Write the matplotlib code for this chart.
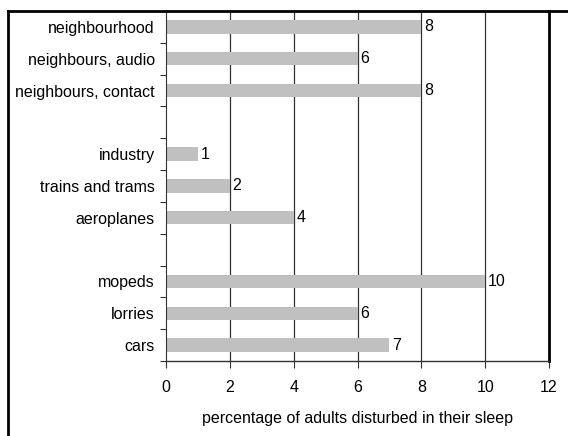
import matplotlib
matplotlib.use("Agg")
import matplotlib.pyplot as plt
from matplotlib.lines import Line2D

plt.rcParams['font.family'] = ['Liberation Sans', 'DejaVu Sans']

# top to bottom, None marks an empty slot between groups
categories = ["neighbourhood", "neighbours, audio", "neighbours, contact", None,
              "industry", "trains and trams", "aeroplanes", None,
              "mopeds", "lorries", "cars"]
values = [8, 6, 8, None, 1, 2, 4, None, 10, 6, 7]

FS = 11.5
W, H = 568, 436
fig = plt.figure(figsize=(W / 100, H / 100), dpi=100)
ax = fig.add_axes([166 / W, 1 - 361 / H, (549 - 166) / W, (361 - 11) / H])

n = len(categories)
ys = [n - 1 - i for i in range(n)]
for y, cat, v in zip(ys, categories, values):
    if v is None:
        continue
    ax.barh(y, v, height=0.42, color="#c0c0c0", zorder=2)
    ax.text(v + 0.08, y, str(v), va="center", ha="left", fontsize=FS)

ax.set_xlim(0, 12)
ax.set_ylim(-0.5, n - 0.5)
ax.set_xticks(range(0, 13, 2))
ax.set_xticklabels([str(t) for t in range(0, 13, 2)], fontsize=FS)

# category labels at centres, tick marks at slot boundaries
ax.set_yticks(ys)
ax.set_yticklabels([c if c else "" for c in categories], fontsize=FS)
ax.tick_params(axis="y", which="major", length=0, pad=8)
ax.set_yticks([y - 0.5 for y in range(n + 1)], minor=True)
ax.tick_params(axis="y", which="minor", length=4, width=0.8, color="#333333", direction="out")
ax.tick_params(axis="x", length=5, width=0.8, color="#333333", pad=9)

for x in range(2, 12, 2):
    ax.axvline(x, color="#333333", linewidth=0.9, zorder=1)

ax.spines["left"].set_color("#333333")
ax.spines["left"].set_linewidth(0.8)
ax.spines["bottom"].set_color("#333333")
ax.spines["bottom"].set_linewidth(1.0)
ax.spines["right"].set_linewidth(2)
ax.spines["top"].set_visible(False)

ax.set_xlabel("percentage of adults disturbed in their sleep", fontsize=FS, labelpad=11)

# figure frame on left and top
fig.add_artist(Line2D([8 / W, 8 / W], [0, 1 - 11 / H], color="black", linewidth=2,
                      transform=fig.transFigure))
fig.add_artist(Line2D([8 / W, 1], [1 - 11 / H, 1 - 11 / H], color="black", linewidth=2,
                      transform=fig.transFigure))

fig.savefig("out.png", dpi=100)
